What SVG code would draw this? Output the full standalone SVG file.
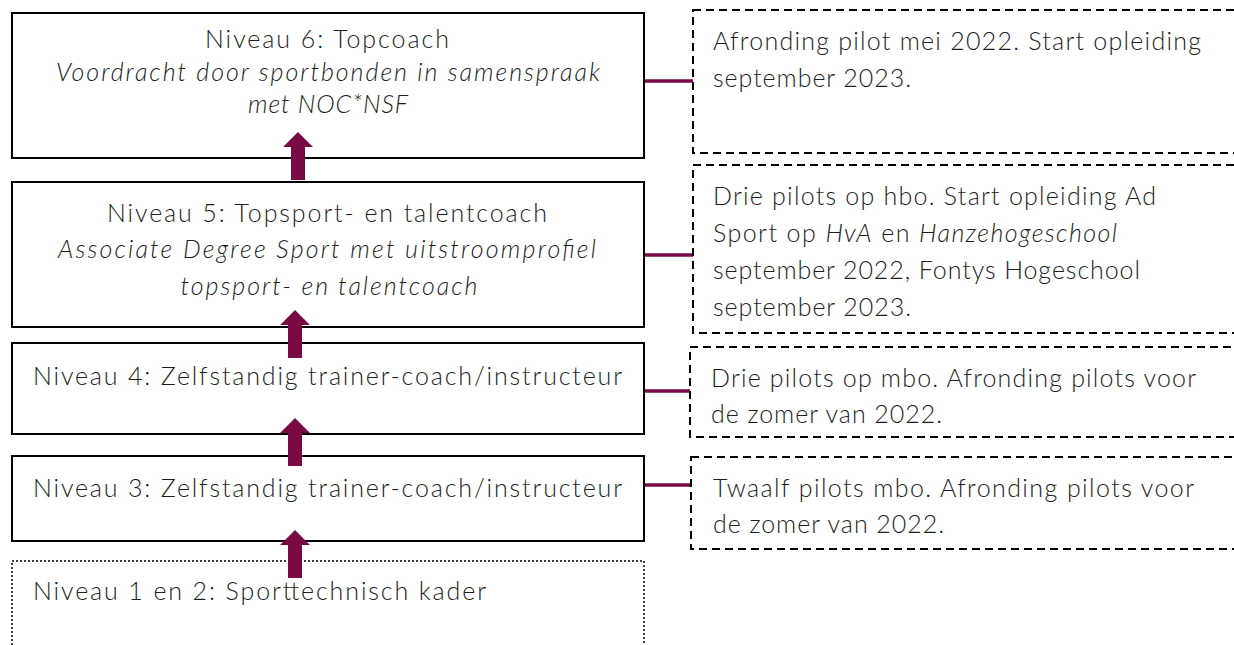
<svg xmlns="http://www.w3.org/2000/svg" width="1234" height="645" viewBox="0 0 1234 645">
<style>
.t{font-family:Lato,"Open Sans","Liberation Sans",sans-serif;font-weight:300;font-size:25px;fill:#1e1e1e}
.c{text-anchor:middle}
.i{font-style:italic}
.box{fill:#fff;stroke:#000;stroke-width:2}
.dash{fill:#fff;stroke:#000;stroke-width:2;stroke-dasharray:8 5}
.dot{fill:#fff;stroke:#000;stroke-width:1.5;stroke-dasharray:2 2}
.con{stroke:#7a0a44;stroke-width:3.5;fill:none}
.arr{fill:#7a0a44}
</style>
<defs>
<path id="up" d="M0,0 L15,15 L7,15 L7,48 L-7,48 L-7,15 L-15,15 Z"/>
</defs>
<rect width="1234" height="645" fill="#fff"/>

<g id="connectors">
<line class="con" x1="644" y1="81" x2="693" y2="81"/>
<line class="con" x1="644" y1="255" x2="693" y2="255"/>
<line class="con" x1="644" y1="391" x2="690" y2="391"/>
<line class="con" x1="644" y1="485" x2="691" y2="485"/>
</g>

<g id="n6">
<rect class="box" x="12" y="13" width="632" height="145"/>
<text class="t c" x="327" y="48" textLength="244" lengthAdjust="spacing">Niveau 6: Topcoach</text>
<text class="t c i" x="328" y="81" textLength="544" lengthAdjust="spacing">Voordracht door sportbonden in samenspraak</text>
<text class="t c i" x="328" y="113" textLength="160" lengthAdjust="spacing">met NOC*NSF</text>
</g>
<g id="n5">
<rect class="box" x="12" y="182" width="632" height="145"/>
<text class="t c" x="327" y="222" textLength="440" lengthAdjust="spacing">Niveau 5: Topsport- en talentcoach</text>
<text class="t c i" x="327" y="258" textLength="538" lengthAdjust="spacing">Associate Degree Sport met uitstroomprofiel</text>
<text class="t c i" x="329" y="295" textLength="297" lengthAdjust="spacing">topsport- en talentcoach</text>
</g>
<g id="n4">
<rect class="box" x="12" y="343" width="632" height="91"/>
<text class="t" x="33" y="385" textLength="589" lengthAdjust="spacing">Niveau 4: Zelfstandig trainer-coach/instructeur</text>
</g>
<g id="n3">
<rect class="box" x="12" y="456" width="632" height="85"/>
<text class="t" x="33" y="497" textLength="589" lengthAdjust="spacing">Niveau 3: Zelfstandig trainer-coach/instructeur</text>
</g>
<g id="n12">
<rect class="dot" x="12" y="561" width="632" height="100"/>
<text class="t" x="33" y="600" textLength="453" lengthAdjust="spacing">Niveau 1 en 2: Sporttechnisch kader</text>
</g>

<g id="arrows">
<use href="#up" class="arr" x="298" y="132"/>
<use href="#up" class="arr" x="295" y="310"/>
<use href="#up" class="arr" x="295" y="418"/>
<use href="#up" class="arr" x="295" y="530"/>
</g>

<g id="r6">
<rect class="dash" x="693" y="10" width="560" height="143"/>
<text class="t" x="713" y="50" textLength="488" lengthAdjust="spacing">Afronding pilot mei 2022. Start opleiding</text>
<text class="t" x="713" y="87" textLength="198" lengthAdjust="spacing">september 2023.</text>
</g>
<g id="r5">
<rect class="dash" x="693" y="165" width="560" height="168"/>
<text class="t" x="713" y="205" textLength="443" lengthAdjust="spacing">Drie pilots op hbo. Start opleiding Ad</text>
<text class="t" x="713" y="242" textLength="404" lengthAdjust="spacing">Sport op <tspan class="i">HvA</tspan> en <tspan class="i">Hanzehogeschool</tspan></text>
<text class="t" x="713" y="279" textLength="427" lengthAdjust="spacing">september 2022, Fontys Hogeschool</text>
<text class="t" x="713" y="316" textLength="198" lengthAdjust="spacing">september 2023.</text>
</g>
<g id="r4">
<rect class="dash" x="690" y="347" width="560" height="90"/>
<text class="t" x="711" y="387" textLength="485" lengthAdjust="spacing">Drie pilots op mbo. Afronding pilots voor</text>
<text class="t" x="711" y="423" textLength="231" lengthAdjust="spacing">de zomer van 2022.</text>
</g>
<g id="r3">
<rect class="dash" x="691" y="457" width="560" height="92"/>
<text class="t" x="713" y="497" textLength="481" lengthAdjust="spacing">Twaalf pilots mbo. Afronding pilots voor</text>
<text class="t" x="713" y="533" textLength="231" lengthAdjust="spacing">de zomer van 2022.</text>
</g>
</svg>
